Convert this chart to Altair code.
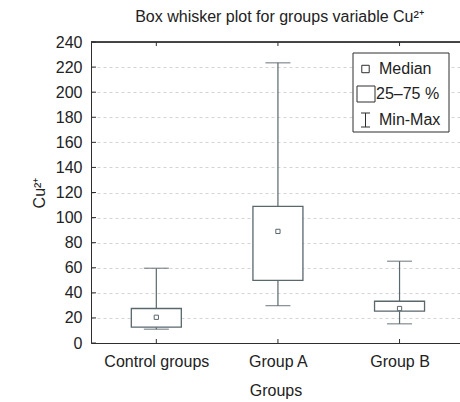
import altair as alt
import pandas as pd

# ---- data ----
groups = ["Control groups", "Group A", "Group B"]
positions = [0, 1, 2]
mins = [11.0, 29.8, 15.3]
q1s = [12.6, 50.0, 25.4]
medians = [20.5, 89.0, 27.5]
q3s = [27.5, 109.0, 33.3]
maxs = [59.6, 223.4, 65.2]
y_ticks = [0, 20, 40, 60, 80, 100, 120, 140, 160, 180, 200, 220, 240]

df = pd.DataFrame({"group": groups, "idx": positions, "min": mins, "q1": q1s,
                   "median": medians, "q3": q3s, "max": maxs})
ticks_df = pd.DataFrame({"v": y_ticks})

W, H = 369, 301
FONT = "Liberation Sans"
BOX = "#5a676c"
FRAME = "#2e2e2e"

xscale = alt.Scale(domain=[-0.496, 2.456], nice=False, zero=False)
yscale = alt.Scale(domain=[0, 240], nice=False, zero=False)

label_expr = "[" + ",".join("'" + g + "'" for g in groups) + "][datum.value]"
x_axis = alt.Axis(values=positions, labelExpr=label_expr, title="Groups", ticks=False,
                  grid=False, domainColor=FRAME, labelFontSize=16, titleFontSize=16,
                  labelFont=FONT, titleFont=FONT, titleFontWeight="normal",
                  labelColor="#222", titleColor="#222", labelPadding=10, titlePadding=13)
y_axis = alt.Axis(values=y_ticks, title="Cu²⁺", ticks=False, grid=True, gridDash=[3, 3],
                  gridColor="#d4d4d4", domainColor=FRAME, labelFontSize=16, titleFontSize=16,
                  labelFont=FONT, titleFont=FONT, titleFontWeight="normal",
                  labelColor="#222", titleColor="#222", labelPadding=9, titlePadding=8)


def X():
    return alt.X("idx:Q", scale=xscale, axis=x_axis)


def Y(field):
    return alt.Y(field + ":Q", scale=yscale, axis=y_axis)


base = alt.Chart(df)

whisk_lo = base.mark_rule(color=BOX, strokeWidth=1.2).encode(x=X(), y=Y("min"), y2="q1:Q")
whisk_hi = base.mark_rule(color=BOX, strokeWidth=1.2).encode(x=X(), y=Y("q3"), y2="max:Q")
cap_lo = base.mark_tick(orient="horizontal", size=25, thickness=1.3, color=BOX).encode(x=X(), y=Y("min"))
cap_hi = base.mark_tick(orient="horizontal", size=25, thickness=1.3, color=BOX).encode(x=X(), y=Y("max"))
boxes = base.mark_bar(size=50, fill="white", stroke=BOX, strokeWidth=1.3).encode(
    x=X(), y=Y("q1"), y2="q3:Q")
med = base.mark_point(shape="square", size=18, filled=True, fill="white", stroke=BOX,
                      strokeWidth=1, opacity=1).encode(x=X(), y=Y("median"))

# inward ticks
y_tick_marks = alt.Chart(ticks_df).mark_rule(color=FRAME).encode(
    y=Y("v"), x=alt.value(0), x2=alt.value(5))
x_tick_bot = base.mark_rule(color=FRAME).encode(x=X(), y=alt.value(H - 4), y2=alt.value(H))
x_tick_top = base.mark_rule(color=FRAME).encode(x=X(), y=alt.value(0), y2=alt.value(4))
top_line = base.mark_rule(color=FRAME).encode(x=alt.value(0), x2=alt.value(W), y=alt.value(0))

# legend
one = alt.Chart(pd.DataFrame({"a": [0]}))
leg_box = one.mark_rect(fill="white", stroke=FRAME, strokeWidth=1).encode(
    x=alt.value(262), x2=alt.value(358), y=alt.value(11), y2=alt.value(90))
leg_med = one.mark_point(shape="square", size=55, filled=False, color=FRAME, strokeWidth=1,
                         opacity=1).encode(x=alt.value(274.5), y=alt.value(27))
leg_rect = one.mark_rect(fill="white", stroke=FRAME, strokeWidth=1).encode(
    x=alt.value(266), x2=alt.value(284), y=alt.value(44), y2=alt.value(60))
leg_i = one.mark_rule(color=FRAME).encode(x=alt.value(274.5), y=alt.value(71), y2=alt.value(85))
leg_i_top = one.mark_rule(color=FRAME).encode(x=alt.value(270), x2=alt.value(279), y=alt.value(71))
leg_i_bot = one.mark_rule(color=FRAME).encode(x=alt.value(270), x2=alt.value(279), y=alt.value(85))
leg_labels = ["Median", "25–75 %", "Min-Max"]
leg_t1 = one.mark_text(align="left", baseline="middle", fontSize=16, font=FONT, color="#222",
                       text=leg_labels[0]).encode(x=alt.value(288), y=alt.value(27))
leg_t2 = one.mark_text(align="left", baseline="middle", fontSize=16, font=FONT, color="#222",
                       text=leg_labels[1]).encode(x=alt.value(285), y=alt.value(52))
leg_t3 = one.mark_text(align="left", baseline="middle", fontSize=16, font=FONT, color="#222",
                       text=leg_labels[2]).encode(x=alt.value(288), y=alt.value(78))

chart = alt.layer(
    y_tick_marks, x_tick_bot, x_tick_top, top_line,
    whisk_lo, whisk_hi, cap_lo, cap_hi, boxes, med,
    leg_box, leg_med, leg_rect, leg_i, leg_i_top, leg_i_bot, leg_t1, leg_t2, leg_t3,
).properties(
    width=W, height=H,
    title=alt.TitleParams("Box whisker plot for groups variable Cu²⁺", fontSize=16,
                          fontWeight="normal", font=FONT, color="#222", anchor="middle",
                          offset=9, dx=4),
    autosize=alt.AutoSizeParams(type="none"),
    padding={"left": 91, "top": 42, "right": 0, "bottom": 59},
).configure_view(stroke=None).configure(background="white")

chart.save("out.html", embed_options={"renderer": "svg", "actions": False})
